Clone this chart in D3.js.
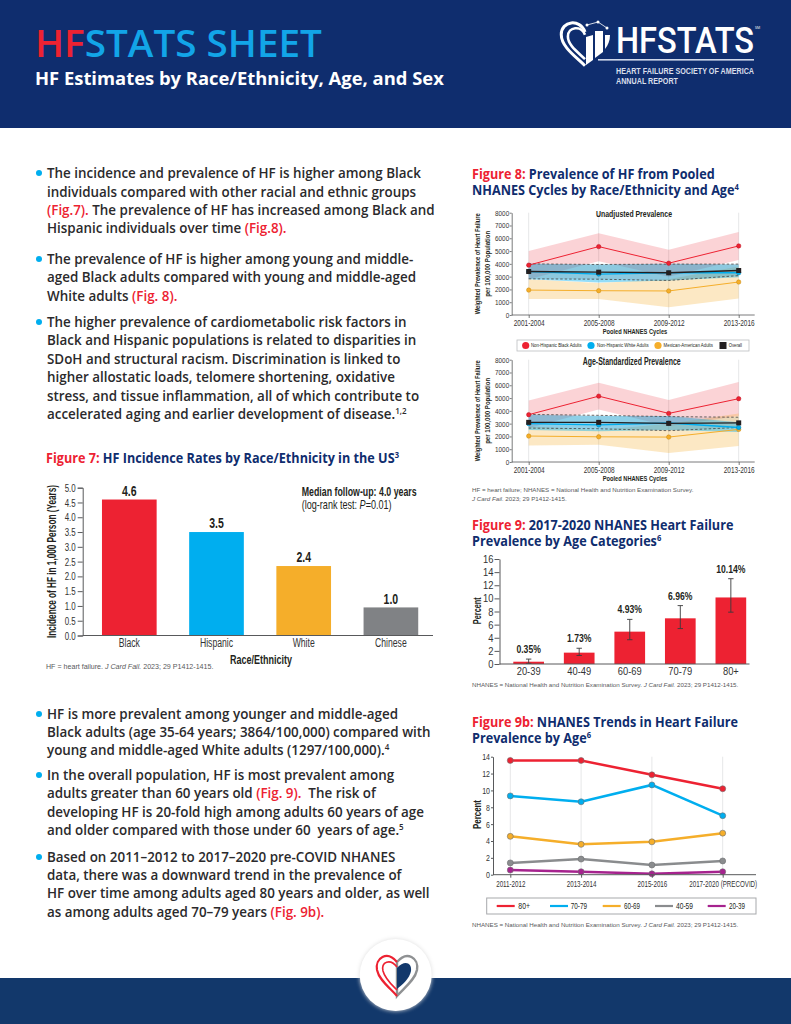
<!DOCTYPE html>
<html><head><meta charset="utf-8">
<script src="https://cdn.jsdelivr.net/npm/d3@7/dist/d3.min.js"></script>
<style>
html,body{margin:0;padding:0;background:#fff}
svg{display:block}
text{font-family:"Open Sans",sans-serif;white-space:pre}
.n{font-family:"Liberation Sans","Roboto",sans-serif}
.f{font-family:"Liberation Sans",sans-serif;fill:#58595b}
.axis path,.axis line{stroke:#58595b}
.axis text{font-family:"Liberation Sans","Roboto",sans-serif;fill:#333}
</style></head><body>
<svg id="c" width="791" height="1024" viewBox="0 0 791 1024"></svg>
<script>
// ---------- data ----------
const raceCats = ["Black","Hispanic","White","Chinese"];
const raceVals = [4.6,3.5,2.35,0.95];
const raceLabels = ["4.6","3.5","2.4","1.0"];
const raceTicks = [0,0.5,1,1.5,2,2.5,3,3.5,4,4.5,5];

const cycles = ["2001-2004","2005-2008","2009-2012","2013-2016"];
const prevTicks = [0,1000,2000,3000,4000,5000,6000,7000,8000];
const uBlack = [3900,5350,4050,5400];
const uBlackHi = [5000,6400,5100,6500];
const uBlackLo = [2800,4200,3000,4300];
const uWhite = [3400,3200,3300,3300];
const uWhiteHi = [4000,3950,4000,3950];
const uWhiteLo = [2800,2550,2700,2950];
const uMex = [1950,1900,1880,2580];
const uMexHi = [2800,2500,2800,3800];
const uMexLo = [1250,1250,600,1300];
const uAll = [3400,3350,3300,3480];
const uAllHi = [4000,3950,3980,3980];
const uAllLo = [2830,2800,2700,3080];
const aBlack = [3700,5150,3800,4950];
const aBlackHi = [4800,6200,4850,6250];
const aBlackLo = [2650,4100,2800,3600];
const aWhite = [3000,2900,3050,2700];
const aWhiteHi = [3700,3600,3600,3100];
const aWhiteLo = [2500,2400,2500,2350];
const aMex = [2030,1970,1950,2550];
const aMexHi = [2800,2500,3000,3800];
const aMexLo = [1300,1350,700,1250];
const aAll = [3100,3100,3020,3060];
const aAllHi = [3720,3650,3550,3500];
const aAllLo = [2650,2600,2450,2700];
const prevLegend = ["Non-Hispanic Black Adults","Non-Hispanic White Adults","Mexican-American Adults","Overall"];

const ageCats = ["20-39","40-49","60-69","70-79","80+"];
const ageVals = [0.35,1.73,4.93,6.96,10.14];
const ageLo = [0.1,1.3,3.7,5.4,7.9];
const ageHi = [0.75,2.4,6.8,8.9,13];
const ageLabels = ["0.35%","1.73%","4.93%","6.96%","10.14%"];
const ageTicks = [0,2,4,6,8,10,12,14,16];

const trendCats = ["2011-2012","2013-2014","2015-2016","2017-2020 (PRECOVID)"];
const trendTicks = [0,2,4,6,8,10,12,14];
const t80 = [13.55,13.55,11.85,10.2];
const t70 = [9.35,8.65,10.65,7.0];
const t60 = [4.55,3.6,3.9,4.93];
const t40 = [1.4,1.85,1.15,1.63];
const t20 = [0.55,0.35,0.1,0.35];
const trendLegend = ["80+","70-79","60-69","40-59","20-39"];

// Rich text: r = red, s = superscript
const bulletsA = [
 [[173,[["The incidence and prevalence of HF is higher among Black"]]],
  [192,[["individuals compared with other racial and ethnic groups"]]],
  [210,[["(Fig.7).","r"],[" The prevalence of HF has increased among Black and"]]],
  [228,[["Hispanic individuals over time "],["(Fig.8).","r"]]]],
 [[259,[["The prevalence of HF is higher among young and middle-"]]],
  [277,[["aged Black adults compared with young and middle-aged"]]],
  [296,[["White adults "],["(Fig. 8).","r"]]]],
 [[322,[["The higher prevalence of cardiometabolic risk factors in"]]],
  [340,[["Black and Hispanic populations is related to disparities in"]]],
  [359,[["SDoH and structural racism. Discrimination is linked to"]]],
  [377,[["higher allostatic loads, telomere shortening, oxidative"]]],
  [396,[["stress, and tissue inflammation, all of which contribute to"]]],
  [414,[["accelerated aging and earlier development of disease."],["1,2","s"]]]],
 [[714,[["HF is more prevalent among younger and middle-aged"]]],
  [732,[["Black adults (age 35-64 years; 3864/100,000) compared with"]]],
  [750,[["young and middle-aged White adults (1297/100,000)."],["4","s"]]]],
 [[775,[["In the overall population, HF is most prevalent among"]]],
  [793,[["adults greater than 60 years old "],["(Fig. 9).","r"],["  The risk of"]]],
  [812,[["developing HF is 20-fold high among adults 60 years of age"]]],
  [830,[["and older compared with those under 60  years of age."],["5","s"]]]],
 [[857,[["Based on 2011–2012 to 2017–2020 pre-COVID NHANES"]]],
  [875,[["data, there was a downward trend in the prevalence of"]]],
  [893,[["HF over time among adults aged 80 years and older, as well"]]],
  [912,[["as among adults aged 70–79 years "],["(Fig. 9b).","r"]]]]
];

// ---------- palette ----------
const RED="#ed2232",BLUE="#00aeef",ORG="#f5ae2a",GRY="#8a8c8e",PUR="#a6238e",NAVY="#0f2d6e",DK="#231f20";
const svg=d3.select("#c");
// horizontal condensing: the original face is a condensed one
function squeeze(sel,r){sel.each(function(){const l=this.getComputedTextLength();d3.select(this).attr("lengthAdjust","spacingAndGlyphs").attr("textLength",l*r);});return sel;}
function fit(sel,w){return sel.attr("lengthAdjust","spacingAndGlyphs").attr("textLength",w);}
// same condensing for a text made of several tspans
function scaleX(t,r){const x=+t.attr("x"),y=+t.attr("y");t.attr("x",0).attr("y",0).attr("transform",`translate(${x},${y}) scale(${r},1)`);return t;}

// ---------- page furniture ----------
svg.append("rect").attr("width",791).attr("height",128).attr("fill",NAVY);
svg.append("rect").attr("y",978).attr("width",791).attr("height",46).attr("fill","#12386b");
const title=svg.append("text").attr("x",35).attr("y",57).attr("font-size",38.7).attr("font-weight",600);
title.append("tspan").attr("fill",RED).text("HF");
title.append("tspan").attr("fill","#12a5e8").text("STATS SHEET");
svg.append("text").attr("x",35).attr("y",85).attr("font-size",18.4).attr("font-weight",700).attr("fill","#fff").text("HF Estimates by Race/Ethnicity, Age, and Sex");

// logo
const logo=svg.append("g");
function heart(g,cx,cy,s,stroke,sw){
  const p=`M${cx},${cy+s*0.95} C${cx-s*0.35},${cy+s*0.6} ${cx-s*0.95},${cy+s*0.2} ${cx-s*0.95},${cy-s*0.3} C${cx-s*0.95},${cy-s*0.85} ${cx-s*0.2},${cy-s*0.95} ${cx},${cy-s*0.4}`;
  g.append("path").attr("d",p).attr("fill","none").attr("stroke",stroke).attr("stroke-width",sw);
}
heart(logo,585,42,25,"#fff",3); heart(logo,585,42,18,"#fff",2.6);
logo.append("path").attr("d","M586,65 L586,37 L593,35 L593,60 Z").attr("fill","#fff");
logo.append("path").attr("d","M595,58 L595,31 L603,31 L603,52 Z").attr("fill","#fff");
logo.append("path").attr("d","M605,49 L605,35 L610,35 C610,41 608,45 605,49 Z").attr("fill","#fff");
logo.append("path").attr("d","M587,25 L598,22 L607,28").attr("fill","none").attr("stroke","#fff").attr("stroke-width",0.8);
[[587,25],[598,22],[607,28]].forEach(([a,b])=>logo.append("circle").attr("cx",a).attr("cy",b).attr("r",1.5).attr("fill","#fff"));
fit(svg.append("text").attr("x",616).attr("y",53).attr("font-size",36.6).attr("font-weight",500).attr("fill","#fff").style("font-family","Roboto").text("HFSTATS"),138);
svg.append("text").attr("x",755).attr("y",29).attr("font-size",3.5).attr("fill","#fff").text("SM");
svg.append("rect").attr("x",598).attr("y",59).attr("width",156).attr("height",1.6).attr("fill","#cfd8ea");
fit(svg.append("text").attr("class","n").attr("x",616).attr("y",74).attr("font-size",8.6).attr("font-weight",700).attr("fill","#d9deea").text("HEART FAILURE SOCIETY OF AMERICA"),138);
fit(svg.append("text").attr("class","n").attr("x",616).attr("y",84).attr("font-size",8.6).attr("font-weight",700).attr("fill","#d9deea").text("ANNUAL REPORT"),62);

// footer badge
svg.append("circle").attr("cx",395.7).attr("cy",975).attr("r",36).attr("fill","#fff").style("filter","drop-shadow(0 0 2px #ddd)");
const bh=svg.append("g");
bh.append("path").attr("d","M397,962 C407,950 419,958 417,970 C415,980 404,988 397,996 Z").attr("fill","none").attr("stroke","#8f9193").attr("stroke-width",2.4);
bh.append("path").attr("d","M397,968 C404,960 412,962 411,971 C410,978 402,985 397,989 Z").attr("fill","#12386b");
bh.append("path").attr("d","M397,962 C387,950 375,958 377,970 C379,980 390,988 397,996").attr("fill","none").attr("stroke",RED).attr("stroke-width",2.2);
bh.append("path").attr("d","M397,967 C390,958 381,962 383,971 C385,979 392,985 397,990").attr("fill","none").attr("stroke",RED).attr("stroke-width",1.6);

// ---------- body text ----------
bulletsA.forEach(b=>{
  svg.append("circle").attr("cx",39).attr("cy",b[0][0]).attr("r",3).attr("fill",BLUE);
  b.forEach(([cy,segs])=>{
    const t=svg.append("text").attr("x",47).attr("y",cy+5).attr("font-size",14.2).attr("font-weight",600).attr("fill","#2b2a2c");
    segs.forEach(([s,k])=>{
      const sp=t.append("tspan").text(s);
      if(k==="r")sp.attr("fill",RED);
      if(k==="s")sp.attr("font-size",8.5).attr("dy",-5);
    });
    scaleX(t,0.944);
  });
});

function figTitle(x,y,red,l1,l2,sup,size){
  const t=svg.append("text").attr("x",x).attr("y",y).attr("font-size",size).attr("font-weight",700).attr("fill",NAVY);
  t.append("tspan").attr("fill",RED).text(red+" ");
  t.append("tspan").text(l1);
  const l=l2?svg.append("text").attr("x",x).attr("y",y+15.5).attr("font-size",size).attr("font-weight",700).attr("fill",NAVY).text(l2):t;
  l.append("tspan").attr("font-size",size*0.6).attr("dy",-5).text(sup);
  scaleX(t,0.93); if(l2) scaleX(l,0.93);
}
function foot(x,y,parts,size){
  const t=svg.append("text").attr("class","f").attr("x",x).attr("y",y).attr("font-size",size||6.2);
  parts.forEach(([s,it])=>{const sp=t.append("tspan").text(s);if(it)sp.attr("font-style","italic");});
}
function styleAxis(g,fs,weight,ratio){
  g.attr("class","axis");
  g.selectAll("text").attr("font-size",fs);
  g.selectAll("path,line").attr("stroke","#58595b").attr("stroke-width",weight||1);
  squeeze(g.selectAll("text"),ratio||0.75);
}
function ylab(x,y,lines,fs,w,gap){
  lines.forEach((l,i)=>fit(svg.append("text").attr("class","n").attr("transform",`translate(${x+i*gap},${y}) rotate(-90)`).attr("text-anchor","middle").attr("font-size",fs).attr("font-weight",700).attr("fill",DK).text(l),w[i]));
}
function lab(x,y,s,fs,w,opt){
  const t=svg.append("text").attr("class","n").attr("x",x).attr("y",y).attr("font-size",fs).attr("font-weight",700).attr("fill",DK).attr("text-anchor",opt||"middle").text(s);
  return fit(t,w);
}

// ---------- Figure 7 ----------
figTitle(46,463,"Figure 7:","HF Incidence Rates by Race/Ethnicity in the US",null,"3",13.6);
{
  const y=d3.scaleLinear().domain([0,5]).range([635.5,487.7]);
  const x=d3.scaleBand().domain(raceCats).range([82.7,437.5]).paddingInner(0.373).paddingOuter(0.221);
  const colors=[RED,BLUE,ORG,"#808285"];
  svg.append("g").selectAll("rect").data(raceCats).join("rect")
    .attr("x",d=>x(d)).attr("width",x.bandwidth())
    .attr("y",(d,i)=>y(raceVals[i])).attr("height",(d,i)=>y(0)-y(raceVals[i]))
    .attr("fill",(d,i)=>colors[i]);
  const ga=svg.append("g").attr("transform","translate(82.7,0)").call(d3.axisLeft(y).tickValues(raceTicks).tickFormat(d3.format(".1f")).tickSizeOuter(0).tickSize(5).tickPadding(2));
  styleAxis(ga,11,1,0.72);
  const gb=svg.append("g").attr("transform","translate(0,635.5)").call(d3.axisBottom(x).tickSize(0).tickPadding(3));
  gb.select(".domain").attr("d","M82.7,0H433");
  styleAxis(gb,12,1,0.72); gb.selectAll("line").remove();
  squeeze(svg.append("g").selectAll("text").data(raceCats).join("text").attr("class","n")
    .attr("x",d=>x(d)+x.bandwidth()/2).attr("y",(d,i)=>y(raceVals[i])-3.6).attr("text-anchor","middle")
    .attr("font-size",14).attr("font-weight",700).attr("fill",DK).text((d,i)=>raceLabels[i]),0.75);
  ylab(56,561.5,["Incidence of HF in 1,000 Person (Years)"],12,[153],0);
  lab(261,664,"Race/Ethnicity",12.5,62);
  lab(301.7,495.7,"Median follow-up: 4.0 years",12,115,"start");
  const pv=svg.append("text").attr("class","n").attr("x",301.7).attr("y",509).attr("font-size",12).attr("fill",DK);
  pv.append("tspan").text("(log-rank test: ");pv.append("tspan").attr("font-style","italic").text("P");pv.append("tspan").text("=0.01)");
  scaleX(pv,90/pv.node().getComputedTextLength());
  foot(46,669,[["HF = heart failure. "],["J Card Fail.",1],[" 2023; 29 P1412-1415."]],7.1);
}

// ---------- Figure 8 ----------
figTitle(472,179,"Figure 8:","Prevalence of HF from Pooled","NHANES Cycles by Race/Ethnicity and Age","4",13.6);
function prevPanel(y0,y1,head,series,bands,xt,hw,hy,hs){
  const y=d3.scaleLinear().domain([0,8000]).range([y0,y1]);
  const x=d3.scalePoint().domain(cycles).range([528.7,738.7]);
  svg.append("g").selectAll("line").data(cycles).join("line").attr("x1",d=>x(d)).attr("x2",d=>x(d)).attr("y1",y0).attr("y2",y1).attr("stroke","#e6e7e8").attr("stroke-width",1);
  const area=(hi,lo)=>d3.area().x((d,i)=>x(cycles[i])).y0((d,i)=>y(lo[i])).y1((d,i)=>y(hi[i]))(hi);
  bands.forEach(b=>svg.append("path").attr("d",area(b.hi,b.lo)).attr("fill",b.c).attr("fill-opacity",b.o));
  const ln=d3.line().x((d,i)=>x(cycles[i])).y(d=>y(d));
  const ov=bands[bands.length-1];
  [ov.hi,ov.lo].forEach(a=>svg.append("path").attr("d",ln(a)).attr("fill","none").attr("stroke","#444").attr("stroke-width",0.8).attr("stroke-dasharray","2.5,2"));
  series.forEach(s=>{
    svg.append("path").attr("d",ln(s.v)).attr("fill","none").attr("stroke",s.c).attr("stroke-width",s.w);
    const g=svg.append("g");
    if(s.sq) g.selectAll("rect").data(s.v).join("rect").attr("x",(d,i)=>x(cycles[i])-2.5).attr("y",d=>y(d)-2.5).attr("width",5).attr("height",5).attr("fill",s.c);
    else g.selectAll("circle").data(s.v).join("circle").attr("cx",(d,i)=>x(cycles[i])).attr("cy",d=>y(d)).attr("r",2.2).attr("fill",s.c).attr("stroke",s.e).attr("stroke-width",0.5);
  });
  const ga=svg.append("g").attr("transform","translate(511.7,0)").call(d3.axisLeft(y).tickValues(prevTicks).tickFormat(d3.format("d")).tickSize(2).tickPadding(0.5).tickSizeOuter(0));
  styleAxis(ga,7.5,0.8,0.85);
  const gb=svg.append("g").attr("transform",`translate(0,${y0})`).call(d3.axisBottom(x).tickSize(3).tickPadding(1.7).tickSizeOuter(0));
  gb.select(".domain").attr("d",`M511.7,0H754.7`);
  styleAxis(gb,8.5,0.8,0.76);
  lab(xt,hy,head,hs,hw);
  lab(635,y0+18.5,"Pooled NHANES Cycles",8,64.6);
  ylab(480,(y0+y1)/2,["Weighted Prevalence of Heart Failure","per 100,000 Population"],8,[101,66],9.5);
}
prevPanel(315,212.7,"Unadjusted Prevalence",[
  {v:uMex,c:ORG,e:"#c98a10",w:1},{v:uWhite,c:BLUE,e:"#0080b0",w:1.4},{v:uBlack,c:RED,e:"#b81522",w:1},{v:uAll,c:DK,w:1.4,sq:1}
],[
  {hi:uBlackHi,lo:uBlackLo,c:RED,o:0.2},{hi:uMexHi,lo:uMexLo,c:ORG,o:0.28},{hi:uWhiteHi,lo:uWhiteLo,c:BLUE,o:0.42},{hi:uAllHi,lo:uAllLo,c:"#6d6e71",o:0.18}
],634,76,217,8.5);
prevPanel(462,359.7,"Age-Standardized Prevalence",[
  {v:aMex,c:ORG,e:"#c98a10",w:1},{v:aWhite,c:BLUE,e:"#0080b0",w:1.4},{v:aBlack,c:RED,e:"#b81522",w:1},{v:aAll,c:DK,w:1.4,sq:1}
],[
  {hi:aBlackHi,lo:aBlackLo,c:RED,o:0.2},{hi:aMexHi,lo:aMexLo,c:ORG,o:0.28},{hi:aWhiteHi,lo:aWhiteLo,c:BLUE,o:0.42},{hi:aAllHi,lo:aAllLo,c:"#6d6e71",o:0.12}
],631.7,98,364.5,10);
// Figure 8 legend
svg.append("rect").attr("x",517).attr("y",340).attr("width",232).attr("height",11).attr("fill","#fff").attr("stroke","#bcbec0").attr("stroke-width",0.8);
{
  const lx=[525.7,591,658,723],tx=[531,597,663.6,728.7],tw=[50.7,51.6,49.4,13.3],lc=[RED,BLUE,ORG,DK];
  prevLegend.forEach((s,i)=>{
    if(i===3) svg.append("rect").attr("x",lx[i]-3.5).attr("y",342).attr("width",7).attr("height",7).attr("fill",DK);
    else svg.append("circle").attr("cx",lx[i]).attr("cy",345.5).attr("r",3.6).attr("fill",lc[i]);
    fit(svg.append("text").attr("class","n").attr("x",tx[i]).attr("y",347.2).attr("font-size",5).attr("fill",DK).text(s),tw[i]);
  });
}
foot(472,492,[["HF = heart failure; NHANES = National Health and Nutrition Examination Survey."]]);
foot(472,501,[["J Card Fail.",1],[" 2023; 29 P1412-1415."]]);

// ---------- Figure 9 ----------
figTitle(472,530,"Figure 9:","2017-2020 NHANES Heart Failure","Prevalence by Age Categories","6",13.6);
{
  const y=d3.scaleLinear().domain([0,16]).range([664,559]);
  const x=d3.scaleBand().domain(ageCats).range([499.5,760]).paddingInner(0.393).paddingOuter(0.273);
  svg.append("g").selectAll("rect").data(ageCats).join("rect").attr("x",d=>x(d)).attr("width",x.bandwidth())
    .attr("y",(d,i)=>y(ageVals[i])).attr("height",(d,i)=>y(0)-y(ageVals[i])).attr("fill",RED);
  const eb=svg.append("g").attr("stroke","#3a3a3c").attr("stroke-width",0.9);
  ageCats.forEach((c,i)=>{
    const cx=x(c)+x.bandwidth()/2;
    eb.append("line").attr("x1",cx).attr("x2",cx).attr("y1",y(ageLo[i])).attr("y2",y(ageHi[i]));
    [ageLo[i],ageHi[i]].forEach(v=>eb.append("line").attr("x1",cx-2.7).attr("x2",cx+2.7).attr("y1",y(v)).attr("y2",y(v)));
  });
  const ga=svg.append("g").attr("transform","translate(499.5,0)").call(d3.axisLeft(y).tickValues(ageTicks).tickSize(5).tickPadding(1).tickSizeOuter(0));
  styleAxis(ga,11,1,0.85);
  const gb=svg.append("g").attr("transform","translate(0,664)").call(d3.axisBottom(x).tickSize(0).tickPadding(3));
  gb.select(".domain").attr("d","M499.5,0H749.5");
  styleAxis(gb,11,1,0.85); gb.selectAll("line").remove();
  squeeze(svg.append("g").selectAll("text").data(ageCats).join("text").attr("class","n")
    .attr("x",d=>x(d)+x.bandwidth()/2).attr("y",(d,i)=>y(ageHi[i])-6).attr("text-anchor","middle")
    .attr("font-size",11.5).attr("font-weight",700).attr("fill",DK).text((d,i)=>ageLabels[i]),0.75);
  ylab(481,610.7,["Percent"],10.5,[27],0);
  foot(472,687,[["NHANES = National Health and Nutrition Examination Survey. "],["J Card Fail.",1],[" 2023; 29 P1412-1415."]]);
}

// ---------- Figure 9b ----------
figTitle(472,727,"Figure 9b:","NHANES Trends in Heart Failure","Prevalence by Age","6",13.6);
{
  const y=d3.scaleLinear().domain([0,14]).range([874.7,756.7]);
  const x=d3.scalePoint().domain(trendCats).range([510.3,722.7]);
  svg.append("g").selectAll("line").data(trendCats).join("line").attr("x1",d=>x(d)).attr("x2",d=>x(d)).attr("y1",874.7).attr("y2",756.7).attr("stroke","#e6e7e8");
  const ser=[[t20,PUR],[t40,GRY],[t60,ORG],[t70,BLUE],[t80,RED]];
  const ln=d3.line().x((d,i)=>x(trendCats[i])).y(d=>y(d));
  ser.forEach(([v,c])=>{
    svg.append("path").attr("d",ln(v)).attr("fill","none").attr("stroke",c).attr("stroke-width",2.5);
    svg.append("g").selectAll("circle").data(v).join("circle").attr("cx",(d,i)=>x(trendCats[i])).attr("cy",d=>y(d)).attr("r",3).attr("fill",c).attr("stroke","#6d6e71").attr("stroke-width",0.6);
  });
  const ga=svg.append("g").attr("transform","translate(493,0)").call(d3.axisLeft(y).tickValues(trendTicks).tickSize(2).tickPadding(1).tickSizeOuter(0));
  styleAxis(ga,9,1,0.78);
  const gb=svg.append("g").attr("transform","translate(0,874.7)").call(d3.axisBottom(x).tickSize(3).tickPadding(3).tickSizeOuter(0));
  gb.select(".domain").attr("d","M493,0H756");
  styleAxis(gb,8.5,1,0.73);
  ylab(481,814.5,["Percent"],10.5,[29],0);
  svg.append("rect").attr("x",486.7).attr("y",898).attr("width",269.3).attr("height",16).attr("fill","#fff").attr("stroke","#a7a9ac");
  const lx=[496.7,550,602.7,655,707.7],tx=[518.3,570.7,624,676,729],tw=[11.7,16.3,16,17,16];
  trendLegend.forEach((s,i)=>{
    const c=[RED,BLUE,ORG,GRY,PUR][i];
    svg.append("line").attr("x1",lx[i]).attr("x2",lx[i]+18).attr("y1",906).attr("y2",906).attr("stroke",c).attr("stroke-width",2.2);
    fit(svg.append("text").attr("class","n").attr("x",tx[i]).attr("y",909).attr("font-size",8.5).attr("fill",DK).text(s),tw[i]);
  });
  foot(472,927,[["NHANES = National Health and Nutrition Examination Survey. "],["J Card Fail.",1],[" 2023; 29 P1412-1415."]]);
}
</script>
</body></html>
